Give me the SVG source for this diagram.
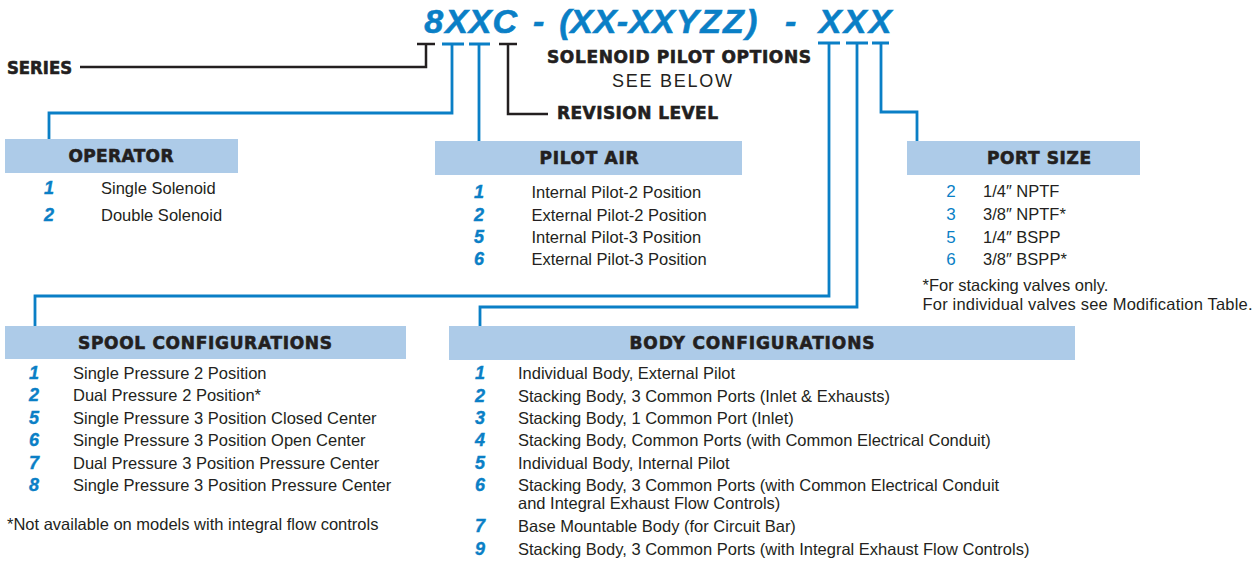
<svg xmlns="http://www.w3.org/2000/svg" width="1258" height="561" viewBox="0 0 1258 561">
<style>
.bg{fill:#ffffff}
.box{fill:#adcbe8}
.hd{font-family:"DejaVu Sans","Liberation Sans",sans-serif;font-weight:bold;font-size:17px;fill:#231f20;stroke:#231f20;stroke-width:0.6}
.hdc{text-anchor:middle}
.tx{font-family:"Liberation Sans","DejaVu Sans",sans-serif;font-size:16.5px;fill:#231f20}
.num{font-family:"Liberation Sans","DejaVu Sans",sans-serif;font-size:18px;font-weight:bold;font-style:italic;fill:#0a7fc6;stroke:#0a7fc6;stroke-width:0.4;text-anchor:middle}
.numr{font-family:"Liberation Sans","DejaVu Sans",sans-serif;font-size:17px;fill:#0a7fc6;text-anchor:middle}
.title{font-family:"Liberation Sans","DejaVu Sans",sans-serif;font-size:34px;font-weight:bold;font-style:italic;fill:#0a7fc6;stroke:#0a7fc6;stroke-width:0.6;text-anchor:middle}
.lb{fill:none;stroke:#231f20;stroke-width:2.5}
.lbl{fill:none;stroke:#0a7fc6;stroke-width:2.8}
</style>
<rect class="bg" x="0" y="0" width="1258" height="561"/>

<g id="title">
<text class="title" x="433.7 456.7 480 504.7 521 538.7 552 565 581.7 605 622.3 640 663.3 687.3 710.7 733.3 751.7 771 790.7 810 830 855 880" y="33">8XXC - (XX-XXYZZ) - XXX</text>
</g>

<g id="connectors">
<path class="lb" d="M417,44 H435 M80,67 H426 V44"/>
<path class="lb" d="M499,44 H517 M508,44 V114 H548"/>
<path class="lbl" d="M442,44 H464 M452,44 V113 H49 V139"/>
<path class="lbl" d="M469,44 H490 M479,44 V141"/>
<path class="lbl" d="M818,43 H840 M829,43 V296 H35 V326"/>
<path class="lbl" d="M846,43 H868 M857,43 V307 H480 V326"/>
<path class="lbl" d="M872,43 H889 M881,43 V112 H917 V141"/>
</g>

<g id="series">
<text class="hd" x="7" y="74" textLength="65" lengthAdjust="spacingAndGlyphs">SERIES</text>
</g>

<g id="solenoid-pilot-options">
<text class="hd" x="547" y="63" textLength="264" lengthAdjust="spacing">SOLENOID PILOT OPTIONS</text>
<text class="tx" x="672" y="87" text-anchor="middle" style="font-size:18px" textLength="120" lengthAdjust="spacing">SEE BELOW</text>
</g>

<g id="revision-level">
<text class="hd" x="557" y="119" textLength="161" lengthAdjust="spacing">REVISION LEVEL</text>
</g>

<g id="operator">
<rect class="box" x="5" y="139" width="233" height="34"/>
<text class="hd hdc" x="121" y="162" textLength="105" lengthAdjust="spacing">OPERATOR</text>
<text class="num" x="49" y="194">1</text><text class="tx" x="101" y="194">Single Solenoid</text>
<text class="num" x="49" y="221">2</text><text class="tx" x="101" y="221">Double Solenoid</text>
</g>

<g id="pilot-air">
<rect class="box" x="435" y="141" width="307" height="34"/>
<text class="hd hdc" x="589" y="163.5" textLength="99" lengthAdjust="spacing">PILOT AIR</text>
<text class="num" x="479" y="198">1</text><text class="tx" x="531.5" y="198">Internal Pilot-2 Position</text>
<text class="num" x="479" y="220.5">2</text><text class="tx" x="531.5" y="220.5">External Pilot-2 Position</text>
<text class="num" x="479" y="243">5</text><text class="tx" x="531.5" y="243">Internal Pilot-3 Position</text>
<text class="num" x="479" y="265">6</text><text class="tx" x="531.5" y="265">External Pilot-3 Position</text>
</g>

<g id="port-size">
<rect class="box" x="907" y="141" width="233" height="34"/>
<text class="hd hdc" x="1039" y="163.5" textLength="104" lengthAdjust="spacing">PORT SIZE</text>
<text class="numr" x="951" y="197">2</text><text class="tx" x="983" y="197">1/4″ NPTF</text>
<text class="numr" x="951" y="220">3</text><text class="tx" x="983" y="220">3/8″ NPTF*</text>
<text class="numr" x="951" y="242.5">5</text><text class="tx" x="983" y="242.5">1/4″ BSPP</text>
<text class="numr" x="951" y="265">6</text><text class="tx" x="983" y="265">3/8″ BSPP*</text>
<text class="tx" x="922.5" y="291">*For stacking valves only.</text>
<text class="tx" x="922.5" y="309.5" textLength="330" lengthAdjust="spacing">For individual valves see Modification Table.</text>
</g>

<g id="spool-configurations">
<rect class="box" x="5" y="326" width="401" height="33"/>
<text class="hd hdc" x="205" y="348.5" textLength="254" lengthAdjust="spacing">SPOOL CONFIGURATIONS</text>
<text class="num" x="34" y="378.5">1</text><text class="tx" x="73" y="378.5">Single Pressure 2 Position</text>
<text class="num" x="34" y="401">2</text><text class="tx" x="73" y="401">Dual Pressure 2 Position*</text>
<text class="num" x="34" y="423.5">5</text><text class="tx" x="73" y="423.5">Single Pressure 3 Position Closed Center</text>
<text class="num" x="34" y="446">6</text><text class="tx" x="73" y="446">Single Pressure 3 Position Open Center</text>
<text class="num" x="34" y="468.5">7</text><text class="tx" x="73" y="468.5">Dual Pressure 3 Position Pressure Center</text>
<text class="num" x="34" y="491">8</text><text class="tx" x="73" y="491">Single Pressure 3 Position Pressure Center</text>
<text class="tx" x="7" y="530">*Not available on models with integral flow controls</text>
</g>

<g id="body-configurations">
<rect class="box" x="449" y="326" width="626" height="34"/>
<text class="hd hdc" x="752" y="348.5" textLength="245" lengthAdjust="spacing">BODY CONFIGURATIONS</text>
<text class="num" x="480" y="379">1</text><text class="tx" x="518" y="379">Individual Body, External Pilot</text>
<text class="num" x="480" y="401.5">2</text><text class="tx" x="518" y="401.5">Stacking Body, 3 Common Ports (Inlet &amp; Exhausts)</text>
<text class="num" x="480" y="424">3</text><text class="tx" x="518" y="424">Stacking Body, 1 Common Port (Inlet)</text>
<text class="num" x="480" y="446">4</text><text class="tx" x="518" y="446">Stacking Body, Common Ports (with Common Electrical Conduit)</text>
<text class="num" x="480" y="468.5">5</text><text class="tx" x="518" y="468.5">Individual Body, Internal Pilot</text>
<text class="num" x="480" y="491">6</text><text class="tx" x="518" y="491">Stacking Body, 3 Common Ports (with Common Electrical Conduit</text>
<text class="tx" x="518" y="509">and Integral Exhaust Flow Controls)</text>
<text class="num" x="480" y="532">7</text><text class="tx" x="518" y="532">Base Mountable Body (for Circuit Bar)</text>
<text class="num" x="480" y="554.5">9</text><text class="tx" x="518" y="554.5">Stacking Body, 3 Common Ports (with Integral Exhaust Flow Controls)</text>
</g>
</svg>
